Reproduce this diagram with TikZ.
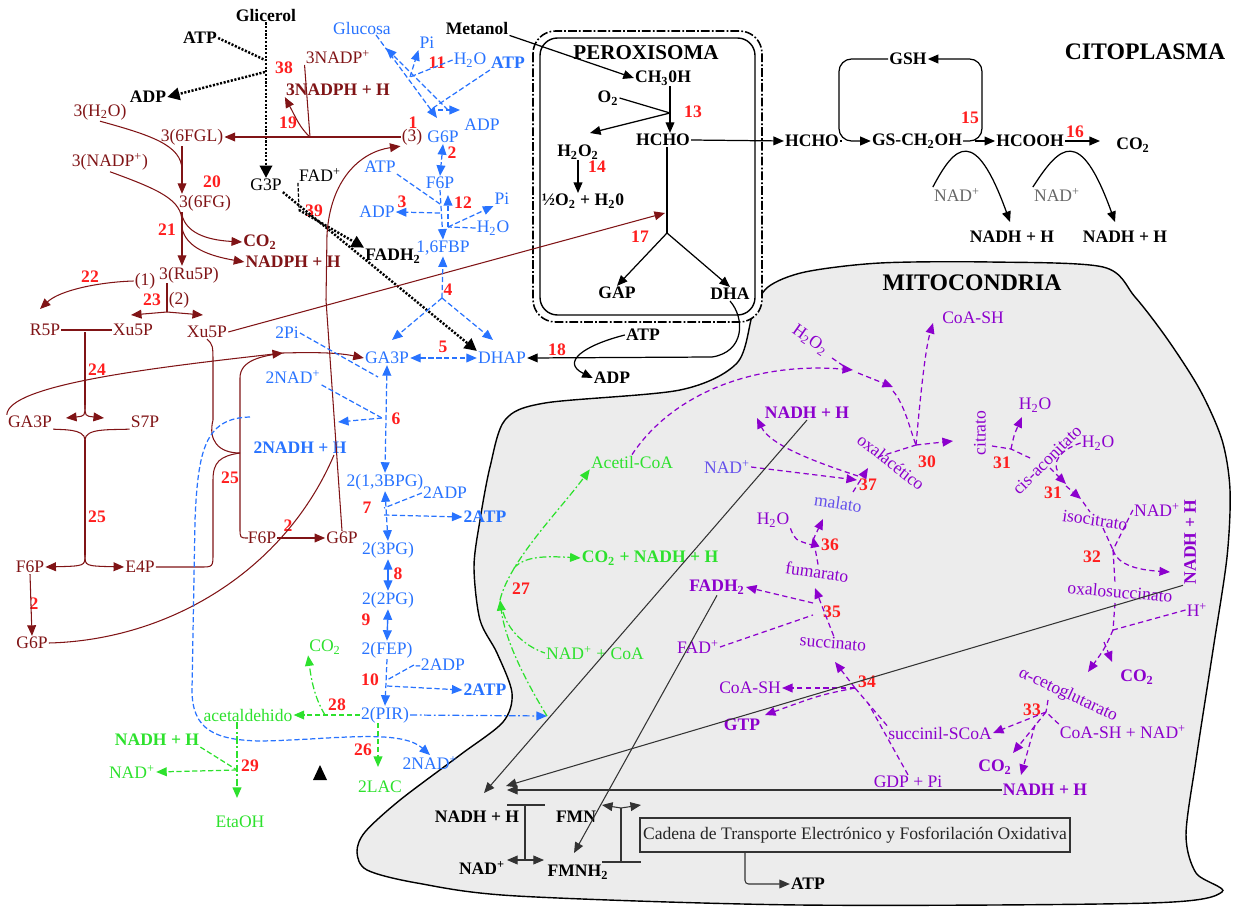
\documentclass[tikz,border=0pt]{standalone}
\usepackage{fontspec}
\setmainfont{Liberation Serif}
\usetikzlibrary{arrows.meta}
\definecolor{brn}{RGB}{128,20,22}
\definecolor{rnr}{RGB}{255,30,30}
\definecolor{glu}{RGB}{40,115,255}
\definecolor{fer}{RGB}{45,225,45}
\definecolor{krb}{RGB}{140,0,205}
\definecolor{kbl}{RGB}{100,80,235}
\definecolor{mito}{RGB}{236,236,236}
\newcommand{\subi}[1]{\textsubscript{#1}}
\newcommand{\supi}[1]{\textsuperscript{#1}}
\tikzset{
	tx/.style={inner sep=0.5pt, font=\fontsize{10}{11}\selectfont},
	bx/.style={inner sep=0.5pt, font=\fontsize{10}{11}\selectfont\bfseries},
	nr/.style={inner sep=0pt, text=rnr, font=\fontsize{10}{11}\selectfont\bfseries},
	ttl/.style={inner sep=0pt, font=\fontsize{13.5}{15}\selectfont\bfseries},
	arr/.style={-{Triangle[length=6pt,width=5pt]}},
	arrk/.style={-{Triangle[length=7pt,width=7pt]}},
	arrb/.style={{Triangle[length=6pt,width=5pt]}-{Triangle[length=6pt,width=5pt]}},
	brl/.style={draw=brn, line width=0.6pt},
	bll/.style={draw=glu, line width=0.7pt, dash pattern=on 3pt off 1.5pt},
	bdd/.style={draw=glu, line width=0.7pt, dash pattern=on 4pt off 1.5pt on 1pt off 1.5pt},
	grl/.style={draw=fer, line width=0.7pt, dash pattern=on 3pt off 1.5pt},
	gdd/.style={draw=fer, line width=0.7pt, dash pattern=on 4pt off 1.5pt on 1pt off 1.5pt},
	prl/.style={draw=krb, line width=0.7pt, dash pattern=on 3pt off 2pt},
	blk/.style={draw=black, line width=0.7pt},
	kl/.style={draw=black!80, line width=0.6pt},
	dtl/.style={draw=black, line width=1.4pt, dash pattern=on 1.2pt off 0.9pt}
}
\begin{document}
\begin{tikzpicture}[x=0.02cm, y=-0.02cm]
	\useasboundingbox (0,0) rectangle (1233,909);
	\draw[fill=mito, line width=0.8pt] plot[smooth cycle, tension=0.5] coordinates {(753,313) (768,287) (805,272) (880,263) (990,262) (1103,267) (1135,297) (1168,340) (1200,390) (1222,440) (1230,490) (1227,557) (1213,650) (1196,760) (1186,835) (1196,873) (1222,892) (1150,903) (800,905) (517,896) (417,883) (367,870) (357,852) (365,832) (400,800) (460,755) (503,722) (512,693) (497,653) (480,620) (474,567) (480,520) (490,467) (505,420) (545,403) (680,390) (737,363)};
	\draw[fill=white, line width=0.9pt, dash pattern=on 5pt off 1.2pt on 1pt off 1.2pt, rounded corners=0.45cm] (533,31) rectangle (762,322);
	\draw[line width=0.8pt, rounded corners=0.35cm] (540,38) rectangle (755,315);

	\node[bx] (glic) at (266,15) {Glicerol};
	\node[bx] (atpA) at (200,38) {ATP};
	\node[bx] (adpA) at (148,97) {ADP};
	\node[tx] (g3p) at (266,185) {G3P};
	\node[tx] (fadA) at (320,175) {FAD\supi{+}};
	\node[bx] (fadhA) at (393,256) {FADH\subi{2}};
	\node[nr] (n38) at (284,68) {38};
	\node[nr] (n39) at (314,211) {39};

	\node[tx,text=brn] (nadpA) at (338,57) {3NADP\supi{+}};
	\node[bx,text=brn] (nadphA) at (338,90) {3NADPH + H};
	\node[nr] (n19) at (288,123) {19};
	\node[nr] (n1) at (413,123) {1};
	\node[tx,text=brn] (p3) at (412,137) {(3)};
	\node[tx,text=brn] (fgl) at (192,137) {3(6FGL)};
	\node[tx,text=brn] (h2oB) at (100,112) {3(H\subi{2}O)};
	\node[nr] (n20) at (212,182) {20};
	\node[tx,text=brn] (fg) at (205,203) {3(6FG)};
	\node[tx,text=brn] (nadpB) at (110,162) {3(NADP\supi{+})};
	\node[nr] (n21) at (167,230) {21};
	\node[tx,text=brn] (ru5p) at (189,275) {3(Ru5P)};
	\node[bx,text=brn] (co2B) at (260,242) {CO\subi{2}};
	\node[bx,text=brn] (nadphB) at (293,262) {NADPH + H};
	\node[tx,text=brn] (p1) at (145,281) {(1)};
	\node[tx,text=brn] (p2) at (179,300) {(2)};
	\node[nr] (n22) at (90,277) {22};
	\node[nr] (n23) at (152,300) {23};
	\node[tx,text=brn] (r5p) at (45,330) {R5P};
	\node[tx,text=brn] (xu5pA) at (133,330) {Xu5P};
	\node[tx,text=brn] (xu5pB) at (207,332) {Xu5P};
	\node[nr] (n24) at (97,370) {24};
	\node[tx,text=brn] (ga3pL) at (30,422) {GA3P};
	\node[tx,text=brn] (s7p) at (145,422) {S7P};
	\node[nr] (n25a) at (97,517) {25};
	\node[tx,text=brn] (f6pL) at (30,567) {F6P};
	\node[tx,text=brn] (e4p) at (140,567) {E4P};
	\node[nr] (n2a) at (34,604) {2};
	\node[tx,text=brn] (g6pL) at (32,643) {G6P};
	\node[nr] (n25b) at (230,478) {25};
	\node[tx,text=brn] (f6pM) at (262,538) {F6P};
	\node[tx,text=brn] (g6pM) at (342,538) {G6P};
	\node[nr] (n2b) at (288,526) {2};

	\node[tx,text=glu] (gluc) at (362,28) {Glucosa};
	\node[tx,text=glu] (piA) at (427,43) {Pi};
	\node[nr] (n11) at (437,63) {11};
	\node[tx,text=glu] (h2oA) at (470,60) {H\subi{2}O};
	\node[bx,text=glu] (atpB) at (508,63) {ATP};
	\node[tx,text=glu] (adpB) at (482,125) {ADP};
	\node[tx,text=glu] (g6pA) at (443,137) {G6P};
	\node[nr] (n2c) at (452,153) {2};
	\node[tx,text=glu] (f6pB) at (440,183) {F6P};
	\node[tx,text=glu] (atpC) at (380,167) {ATP};
	\node[tx,text=glu] (adpC) at (377,212) {ADP};
	\node[nr] (n3) at (402,202) {3};
	\node[nr] (n12) at (463,203) {12};
	\node[tx,text=glu] (piB) at (502,199) {Pi};
	\node[tx,text=glu] (h2oC) at (493,228) {H\subi{2}O};
	\node[tx,text=glu] (fbp) at (443,248) {1,6FBP};
	\node[nr] (n4) at (448,290) {4};
	\node[tx,text=glu] (ga3pM) at (387,358) {GA3P};
	\node[tx,text=glu] (dhap) at (502,358) {DHAP};
	\node[nr] (n5) at (443,347) {5};
	\node[tx,text=glu] (piC) at (287,333) {2Pi};
	\node[tx,text=glu] (nadC) at (293,377) {2NAD\supi{+}};
	\node[bx,text=glu] (nadhC) at (300,448) {2NADH + H};
	\node[nr] (n6) at (396,419) {6};
	\node[tx,text=glu] (bpg) at (385,482) {2(1,3BPG)};
	\node[tx,text=glu] (adpD) at (445,493) {2ADP};
	\node[bx,text=glu] (atpD) at (485,517) {2ATP};
	\node[nr] (n7) at (367,508) {7};
	\node[tx,text=glu] (pg3) at (388,550) {2(3PG)};
	\node[nr] (n8) at (398,574) {8};
	\node[tx,text=glu] (pg2) at (388,600) {2(2PG)};
	\node[nr] (n9) at (366,620) {9};
	\node[tx,text=glu] (fep) at (387,650) {2(FEP)};
	\node[tx,text=glu] (adpE) at (440,665) {-2ADP};
	\node[nr] (n10) at (370,680) {10};
	\node[bx,text=glu] (atpE) at (485,690) {2ATP};
	\node[tx,text=glu] (pir) at (385,715) {2(PIR)};
	\node[tx,text=glu] (nadE) at (430,763) {2NAD\supi{+}};

	\node[tx,text=fer] (acet) at (248,715) {acetaldehido};
	\node[tx,text=fer] (co2C) at (325,647) {CO\subi{2}};
	\node[nr] (n28) at (337,705) {28};
	\node[bx,text=fer] (nadhG) at (157,740) {NADH + H};
	\node[tx,text=fer] (nadG) at (132,772) {NAD\supi{+}};
	\node[nr] (n29) at (250,766) {29};
	\node[tx,text=fer] (etoh) at (240,822) {EtaOH};
	\node[nr] (n26) at (363,750) {26};
	\node[tx,text=fer] (lac) at (380,787) {2LAC};
	\node[tx,text=fer] (acoa) at (632,462) {Acetil-CoA};
	\node[bx,text=fer] (co2n) at (650,558) {CO\subi{2} + NADH + H};
	\node[tx,text=fer] (nadcoa) at (595,653) {NAD\supi{+} + CoA};
	\node[nr] (n27) at (521,589) {27};

	\node[inner sep=0pt, font=\fontsize{12}{13}\selectfont\bfseries] (perox) at (646,53) {PEROXISOMA};
	\node[bx] (metanol) at (477,28) {Metanol};
	\node[bx] (ch3oh) at (663,78) {CH\subi{3}0H};
	\node[bx] (o2) at (608,98) {O\subi{2}};
	\node[nr] (n13) at (693,112) {13};
	\node[bx] (hcho) at (663,140) {HCHO};
	\node[bx] (h2o2) at (578,152) {H\subi{2}O\subi{2}};
	\node[nr] (n14) at (597,167) {14};
	\node[bx] (halfo) at (583,201) {½O\subi{2} + H\subi{2}0};
	\node[nr] (n17) at (640,237) {17};
	\node[bx] (gap) at (617,293) {GAP};
	\node[bx] (dha) at (730,294) {DHA};
	\node[bx] (atpP) at (643,335) {ATP};
	\node[bx] (adpP) at (612,378) {ADP};
	\node[nr] (n18) at (557,350) {18};

	\node[bx] (hchoB) at (812,141) {HCHO};
	\node[bx] (gsh) at (908,59) {GSH};
	\node[bx] (gsch) at (917,141) {GS-CH\subi{2}OH};
	\node[bx] (hcooh) at (1030,141) {HCOOH};
	\node[bx] (co2D) at (1133,145) {CO\subi{2}};
	\node[nr] (n15) at (970,118) {15};
	\node[nr] (n16) at (1075,132) {16};
	\node[tx,text=black!60] (nadP1) at (957,195) {NAD\supi{+}};
	\node[bx] (nadhP1) at (1012,237) {NADH + H};
	\node[tx,text=black!60] (nadP2) at (1057,195) {NAD\supi{+}};
	\node[bx] (nadhP2) at (1125,237) {NADH + H};
	\node[ttl] (cito) at (1145,52) {CITOPLASMA};
	\node[ttl] (mitoc) at (972,283) {MITOCONDRIA};

	\node[tx,text=krb,rotate=-35] (h2o2m) at (810,340) {H\subi{2}O\subi{2}};
	\node[tx,text=krb] (coash1) at (973,318) {CoA-SH};
	\node[tx,text=krb,rotate=-38] (oxa) at (891,462) {oxalacético};
	\node[nr] (n30) at (927,462) {30};
	\node[tx,text=krb,rotate=90] (citr) at (980,433) {citrato};
	\node[nr] (n31a) at (1002,463) {31};
	\node[tx,text=krb] (h2oM1) at (1035,405) {H\subi{2}O};
	\node[tx,text=krb,rotate=45] (cisac) at (1047,460) {cis-aconitato};
	\node[tx,text=krb] (h2oM2) at (1098,443) {H\subi{2}O};
	\node[nr] (n31b) at (1053,493) {31};
	\node[tx,text=krb,rotate=-8] (isoc) at (1095,520) {isocitrato};
	\node[tx,text=krb] (nadM1) at (1157,510) {NAD\supi{+}};
	\node[bx,text=krb,rotate=90] (nadhM1) at (1190,542) {NADH + H};
	\node[nr] (n32) at (1092,557) {32};
	\node[tx,text=krb,rotate=-5] (oxs) at (1120,592) {oxalosuccinato};
	\node[tx,text=krb] (hplus) at (1197,610) {H\supi{+}};
	\node[bx,text=krb] (co2M1) at (1137,677) {CO\subi{2}};
	\node[tx,text=krb,rotate=-25] (akg) at (1068,695) {α-cetoglutarato};
	\node[nr] (n33) at (1032,710) {33};
	\node[tx,text=krb] (coanad) at (1123,732) {CoA-SH + NAD\supi{+}};
	\node[tx,text=krb] (sucoa) at (940,733) {succinil-SCoA};
	\node[bx,text=krb] (co2M2) at (995,767) {CO\subi{2}};
	\node[bx,text=krb] (nadhM2) at (1045,790) {NADH + H};
	\node[tx,text=krb] (gdp) at (908,782) {GDP + Pi};
	\node[nr] (n34) at (867,682) {34};
	\node[tx,text=krb] (coash2) at (750,688) {CoA-SH};
	\node[bx,text=krb] (gtp) at (742,725) {GTP};
	\node[tx,text=krb,rotate=-5] (succ) at (833,643) {succinato};
	\node[nr] (n35) at (832,612) {35};
	\node[tx,text=krb] (fad2) at (698,647) {FAD\supi{+}};
	\node[bx,text=krb] (fadh2) at (717,587) {FADH\subi{2}};
	\node[tx,text=krb,rotate=-8] (fum) at (817,572) {fumarato};
	\node[nr] (n36) at (830,545) {36};
	\node[tx,text=krb] (h2oM3) at (773,520) {H\subi{2}O};
	\node[tx,text=kbl,rotate=-8] (mal) at (838,503) {malato};
	\node[nr] (n37) at (868,485) {37};
	\node[tx,text=kbl] (nadM2) at (727,467) {NAD\supi{+}};
	\node[bx,text=krb] (nadhM3) at (807,413) {NADH + H};

	\node[bx] (nadhE) at (477,817) {NADH + H};
	\node[bx] (nadE2) at (482,868) {NAD\supi{+}};
	\node[bx] (fmn) at (576,817) {FMN};
	\node[bx] (fmnh) at (578,872) {FMNH\subi{2}};
	\node[tx, draw=black!80, line width=0.8pt, text=black!85, minimum width=8.6cm, minimum height=0.68cm] (cadena) at (855,835) {Cadena de Transporte Electrónico y Fosforilación Oxidativa};
	\node[bx] (atpF) at (808,884) {ATP};

	\coordinate (j38a) at (265,60);
	\coordinate (j38b) at (265,72);
	\coordinate (j39) at (299,210);
	\draw[dtl,arrk] (glic.south) -- (g3p.north);
	\draw[dtl] (atpA.east) -- (j38a);
	\draw[dtl,arrk] (j38b) -- (adpA.east);
	\draw[dtl,arrk] (g3p.south east) -- (dhap.north west);
	\draw[blk, dash pattern=on 2pt off 1pt] (fadA.south west) -- (j39);
	\draw[dtl,arrk] (j39) -- (fadhA.north west);

	\coordinate (j19) at (310,137);
	\coordinate (j20) at (182,170);
	\coordinate (j21) at (182,222);
	\draw[brl,arr] (p3.west) -- (fgl.east);
	\draw[brl] (nadpA.south west) -- (j19);
	\draw[brl,arr] (j19) .. controls (300,128) and (296,118) .. (nadphA.south west);
	\draw[brl] (h2oB.south) .. controls (150,135) and (182,145) .. (j20);
	\draw[brl,arr] (fgl.south -| j20) -- (fg.north -| j20);
	\draw[brl] (nadpB.south) .. controls (160,190) and (182,200) .. (j21);
	\draw[brl,arr] (fg.south -| j21) -- (ru5p.north -| j21);
	\draw[brl,arr] (182,215) .. controls (186,232) and (205,240) .. (co2B.west);
	\draw[brl,arr] (182,228) .. controls (186,248) and (210,256) .. (nadphB.west);
	\draw[brl,arr] (p1.west) .. controls (100,282) and (60,290) .. (40,309);
	\coordinate (j23) at (167,312);
	\draw[brl] (167,283) -- (j23);
	\draw[brl,arr] (j23) -- (131,315);
	\draw[brl,arr] (j23) -- (203,315);
	\coordinate (j24) at (85,332);
	\draw[brl] (r5p.east) -- (xu5pA.west);
	\draw[brl] (j24) -- (85,405);
	\draw[brl,arr] (85,405) .. controls (85,416) .. (66,418);
	\draw[brl,arr] (85,405) .. controls (85,416) .. (104,418);
	\coordinate (j25) at (85,440);
	\draw[brl] (ga3pL.south east) .. controls (60,430) and (85,428) .. (j25);
	\draw[brl] (s7p.south west) .. controls (110,430) and (85,428) .. (j25);
	\draw[brl] (j25) -- (85,555);
	\draw[brl,arr] (85,555) .. controls (85,566) .. (f6pL.east);
	\draw[brl,arr] (85,555) .. controls (85,566) .. (e4p.west);
	\draw[brl,arr] (f6pL.south) -- (g6pL.north);
	\draw[brl] (xu5pB.south) .. controls (213,345) .. (213,365) -- (213,420) .. controls (208,440) and (218,453) .. (240,453);
	\draw[brl] (240,453) .. controls (220,456) and (213,462) .. (213,480) -- (213,553) .. controls (213,567) .. (200,567) -- (e4p.east);
	\coordinate (j24b) at (283,353);
	\draw[brl] (f6pM.west) -- (248,538) .. controls (240,538) .. (240,528) -- (240,378) .. controls (240,360) and (262,356) .. (j24b);
	\draw[brl,arr] (ga3pL.north west) .. controls (8,385) and (150,368) .. (j24b);
	\draw[brl,arr] (j24b) .. controls (320,352) and (340,353) .. (ga3pM.west);
	\draw[brl,arr] (f6pM.east) -- (g6pM.west);
	\draw[brl,arr] (g6pM.north) -- (326,300) -- (327,235) .. controls (330,180) and (360,152) .. (p3.south west);
	\draw[brl] (g6pL.east) .. controls (170,640) and (285,570) .. (334,455);
	\coordinate (j17in) at (665,213);
	\draw[brl,arr] (xu5pB.east) -- (j17in);

	\coordinate (j11) at (410,77);
	\coordinate (j11b) at (430,110);
	\draw[bll,arr] (376,35) -- (437,118);
	\draw[bll,arr] (448,110) -- (386,48);
	\draw[bll] (h2oA.west) -- (j11);
	\draw[bll,arr] (j11) -- (piA.south west);
	\draw[bll] (atpB.south west) -- (j11b);
	\draw[bll,arr] (j11b) -- (460,110);
	\draw[bll,arrb] (g6pA.south) -- (f6pB.north);
	\coordinate (j3) at (440,204);
	\draw[bll] (atpC.south east) -- (j3);
	\draw[bll,arr] (440,213) -- (adpC.east);
	\draw[bll,arr] (f6pB.south) -- (fbp.north);
	\coordinate (j12) at (448,227);
	\draw[bll,arr] (j12) -- (448,195);
	\draw[bll] (h2oC.west) -- (j12);
	\draw[bll,arr] (j12) -- (piB.south west);
	\coordinate (j4) at (442,298);
	\draw[bll,arr] (j4) -- (fbp.south);
	\draw[bll,arr] (j4) -- (392,340);
	\draw[bll,arr] (j4) -- (493,340);
	\draw[bll,arrb] (ga3pM.east) -- (dhap.west);
	\coordinate (j6) at (382,418);
	\draw[bll,arrb] (ga3pM.south) -- (bpg.north);
	\draw[bll] (piC.east) -- (378,377);
	\draw[bll] (nadC.south east) -- (j6);
	\draw[bll,arr] (j6) -- (338,422);
	\draw[bll,arr] (250,417) .. controls (205,418) and (198,450) .. (195,520) -- (192,690) .. controls (192,730) and (215,740) .. (260,741) .. controls (330,740) and (400,728) .. (nadE.north);
	\coordinate (j7) at (384,508);
	\draw[bll,arrb] (bpg.south) -- (pg3.north);
	\draw[bll] (adpD.west) -- (j7);
	\draw[bll,arr] (384,515) -- (atpD.west);
	\draw[draw=glu, line width=0.8pt, arrb] (pg3.south) -- (pg2.north);
	\draw[draw=glu, line width=0.8pt, arrb] (pg2.south) -- (fep.north);
	\coordinate (j10) at (387,680);
	\draw[bll,arr] (fep.south) -- (pir.north);
	\draw[bll] (adpE.west) -- (j10);
	\draw[bll,arr] (387,686) -- (atpE.west);
	\coordinate (j27b) at (547,716);
	\draw[bdd,arr] (pir.east) -- (j27b);

	\coordinate (j28) at (325,715);
	\coordinate (j29) at (237,770);
	\coordinate (j27) at (500,600);
	\draw[grl,arr] (pir.west) -- (acet.east);
	\draw[gdd,arr] (j28) .. controls (316,700) and (312,685) .. (co2C.south west);
	\draw[gdd,arr] (acet.south -| j29) -- (237,798);
	\draw[grl] (nadhG.south east) -- (j29);
	\draw[grl,arr] (j29) -- (nadG.east);
	\draw[grl,arr] (378,723) -- (378,767);
	\draw[gdd,arr] (j27b) .. controls (525,680) and (505,640) .. (j27);
	\draw[gdd,arr] (j27) .. controls (510,560) and (560,510) .. (acoa.south west);
	\draw[gdd,arr] (514,568) .. controls (525,556) and (545,556) .. (co2n.west);
	\draw[gdd] (503,612) .. controls (510,635) and (530,648) .. (nadcoa.west);

	\coordinate (j13) at (670,113);
	\coordinate (j17) at (667,233);
	\draw[blk,arr] (metanol.south east) -- (ch3oh.west);
	\draw[blk] (o2.east) -- (j13);
	\draw[blk,arr] (ch3oh.south -| j13) -- (hcho.north -| j13);
	\draw[blk,arr] (j13) -- (590,133);
	\draw[blk,arr] (h2o2.south) -- (578,193);
	\draw[blk,arr] (hcho.east) -- (hchoB.west);
	\draw[blk] (hcho.south -| j17) -- (j17);
	\draw[blk,arr] (j17) -- (gap.north);
	\draw[blk,arr] (j17) -- (dha.north);
	\draw[blk,arr] (dha.south) .. controls (745,318) and (745,352) .. (712,357) -- (dhap.east);
	\draw[blk,arr] (atpP.west) .. controls (585,345) and (560,362) .. (adpP.west);

	\draw[blk] (hchoB.east) -- (842,141);
	\draw[blk,arr,rounded corners=0.25cm] (gsh.west) -- (839,59) -- (839,141) -- (gsch.west);
	\draw[blk,arr,rounded corners=0.25cm] (gsch.east) -- (982,141) -- (982,59) -- (gsh.east);
	\draw[blk,arr] (975,141) -- (hcooh.west);
	\draw[blk,arr] (hcooh.east) -- (1100,141);
	\draw[blk,arr] (nadP1.north west) .. controls (955,145) and (975,125) .. (1010,222);
	\draw[blk,arr] (nadP2.north west) .. controls (1060,145) and (1080,125) .. (1115,222);

	\coordinate (j30) at (916,445);
	\draw[prl,arr] (acoa.north) .. controls (675,390) and (760,362) .. (853,370);
	\draw[prl] (832,358) -- (845,367);
	\draw[prl,arr] (858,373) -- (893,387);
	\draw[prl] (893,391) .. controls (905,405) and (910,430) .. (j30);
	\draw[prl,arr] (j30) .. controls (920,400) and (925,350) .. (933,323);
	\draw[prl] (878,457) -- (j30);
	\draw[prl,arr] (j30) -- (953,441);
	\coordinate (j31) at (1011,449);
	\draw[prl] (992,446) -- (j31) -- (1030,458);
	\draw[prl,arr] (j31) .. controls (1014,435) .. (1022,417);
	\draw[prl] (h2oM2.west) .. controls (1060,450) and (1052,462) .. (1058,472);
	\draw[prl,arr] (1050,468) -- (1066,484);
	\draw[prl,arr] (1066,486) -- (1081,499);
	\draw[prl] (1083,502) -- (1090,512);
	\coordinate (j32) at (1113,550);
	\draw[prl] (1103,528) -- (j32);
	\draw[prl] (nadM1.west) -- (j32);
	\draw[prl,arr] (j32) .. controls (1118,566) and (1140,570) .. (1170,572);
	\draw[prl] (j32) -- (1115,583);
	\coordinate (j32b) at (1113,630);
	\draw[prl] (1115,603) -- (j32b);
	\draw[prl] (hplus.west) -- (j32b);
	\draw[prl,arr] (j32b) .. controls (1105,648) .. (1088,672);
	\draw[prl,arr] (1104,642) -- (1112,662);
	\coordinate (j33) at (1046,712);
	\draw[prl] (1048,700) -- (j33);
	\draw[prl] (coanad.north west) -- (j33);
	\draw[prl,arr] (j33) -- (sucoa.east);
	\draw[prl,arr] (j33) -- (1013,753);
	\draw[prl,arr] (1035,725) -- (1021,775);
	\coordinate (j34) at (855,688);
	\draw[prl] (sucoa.north west) -- (j34);
	\draw[prl] (gdp.north) -- (868,703);
	\draw[prl,arr] (j34) -- (835,662);
	\draw[prl,arr] (j34) -- (coash2.east);
	\draw[prl,arr] (j34) .. controls (820,695) .. (765,715);
	\coordinate (j35) at (813,615);
	\draw[prl,arr] (succ.north) -- (815,588);
	\draw[prl] (fad2.east) -- (j35);
	\draw[prl,arr] (813,603) -- (fadh2.east);
	\coordinate (j36) at (812,545);
	\draw[prl,arr] (fum.north) -- (813,537);
	\draw[prl,arr] (813,540) -- (823,519);
	\draw[prl] (h2oM3.south east) .. controls (795,540) .. (j36);
	\coordinate (j37) at (857,480);
	\draw[prl,arr] (nadM2.east) -- (j37);
	\draw[prl,arr] (858,476) .. controls (815,462) and (770,445) .. (757,418);
	\draw[prl,arr] (853,492) -- (868,468);

	\draw[kl,arr] (nadhM3.south) -- (484,793);
	\draw[kl,arr] (fadh2.south) -- (574,853);
	\draw[kl,arr] (nadhM1.north west) -- (506,786);
	\draw[kl,arr] (nadhM2.west) -- (507,790);
	\draw[kl] (507,805) -- (545,805);
	\draw[kl] (525,805) -- (525,860);
	\draw[kl,arr] (525,860) -- (507,860);
	\draw[kl,arr] (525,860) -- (544,860);
	\draw[kl,arr] (621,808) -- (602,805);
	\draw[kl,arr] (621,808) -- (641,805);
	\draw[kl] (621,808) -- (621,861);
	\draw[kl] (602,862) -- (641,862);
	\draw[kl,arr,rounded corners=2pt] (745,852) -- (745,884) -- (atpF.west);
	\fill (313,780) -- (320,765) -- (327,780) -- cycle;
\end{tikzpicture}
\end{document}
